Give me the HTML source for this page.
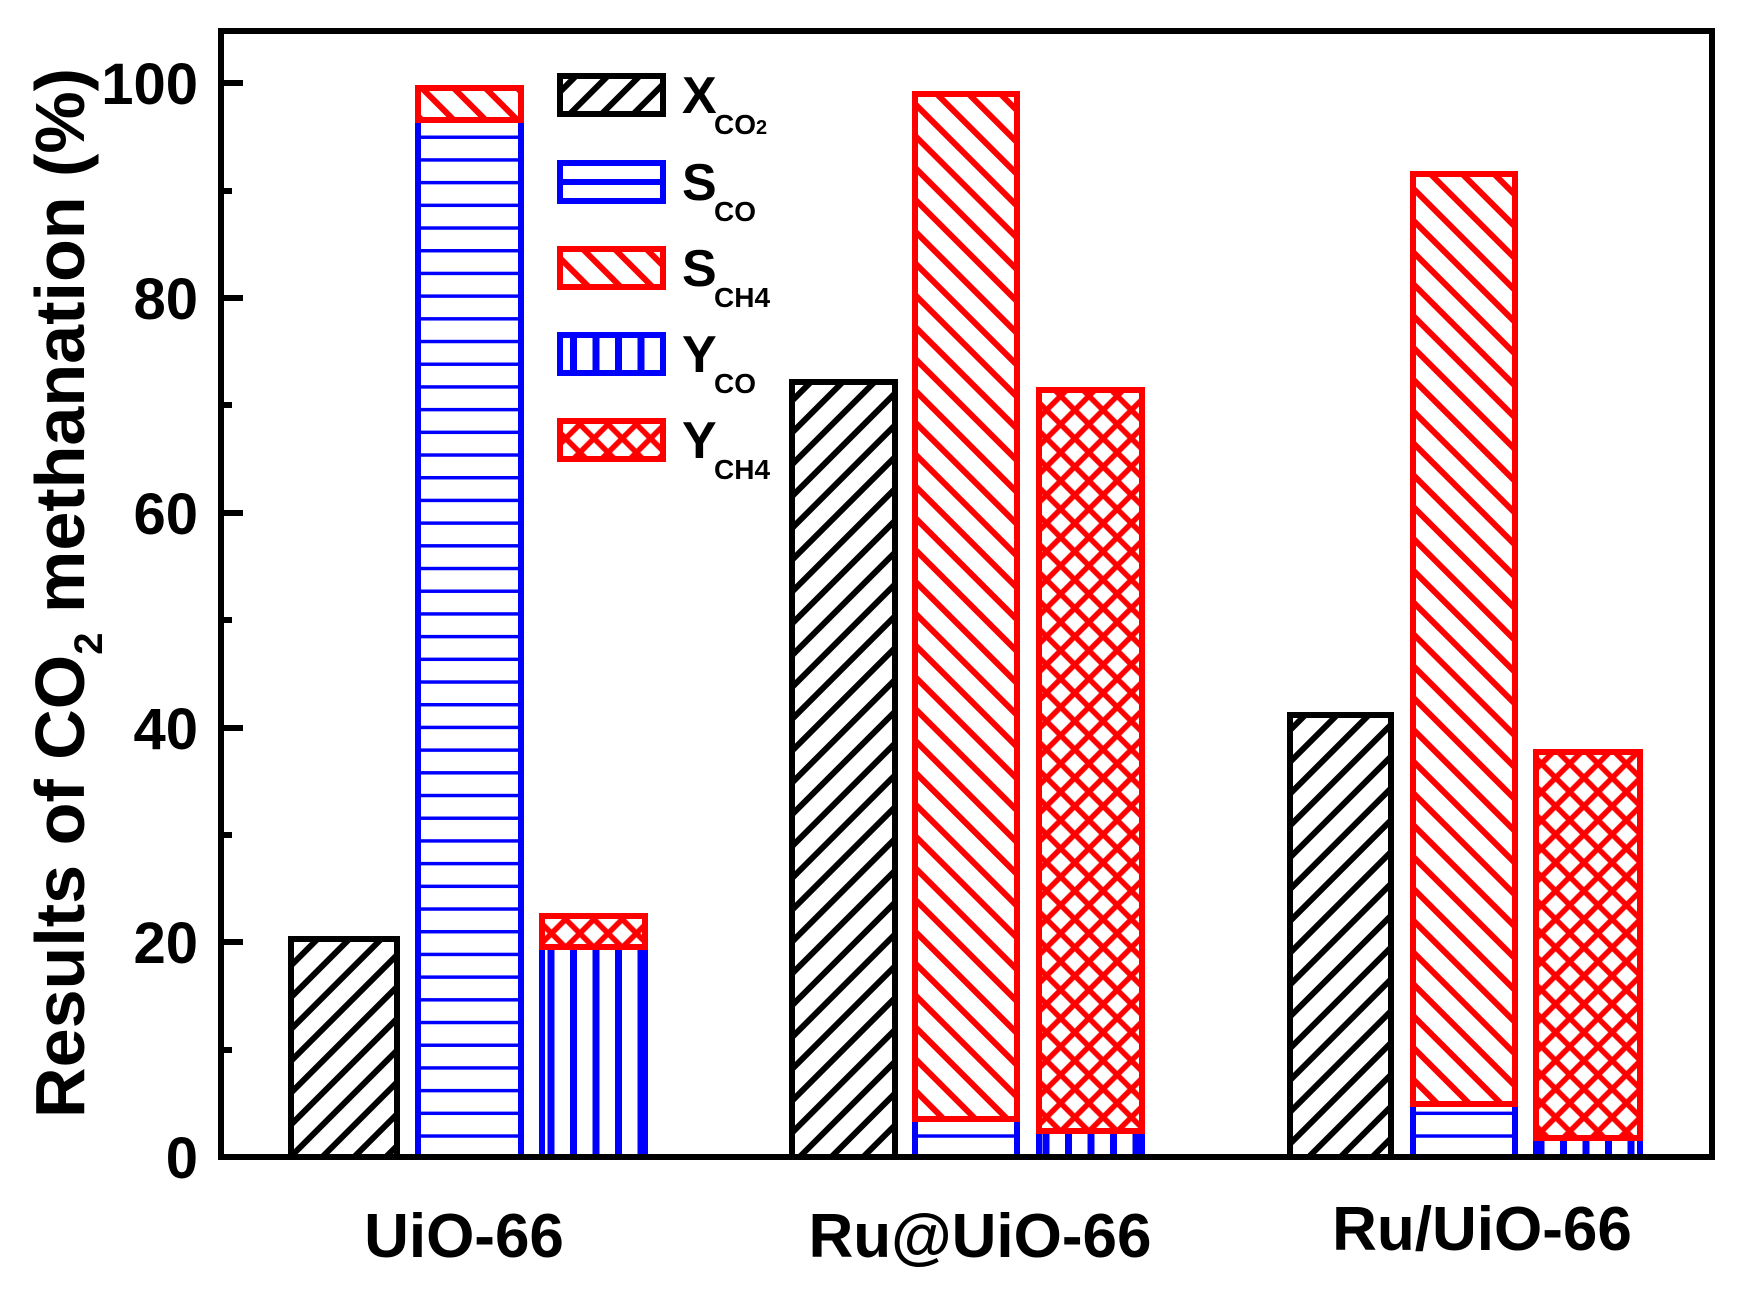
<!DOCTYPE html>
<html><head><meta charset="utf-8"><style>html,body{margin:0;padding:0;background:#fff}svg{display:block}</style></head>
<body>
<svg width="1755" height="1302" viewBox="0 0 1755 1302" xmlns="http://www.w3.org/2000/svg" font-family="Liberation Sans, Arial, sans-serif" font-weight="bold">
<defs>
<pattern id="fw" patternUnits="userSpaceOnUse" width="22.5" height="40" patternTransform="rotate(45)">
<line x1="11" y1="0" x2="11" y2="40" stroke="#000" stroke-width="6"/></pattern>
<pattern id="bw" patternUnits="userSpaceOnUse" width="22.5" height="40" patternTransform="rotate(-45)">
<line x1="11" y1="0" x2="11" y2="40" stroke="#f00" stroke-width="6"/></pattern>
<pattern id="hz" patternUnits="userSpaceOnUse" width="40" height="22.7" y="1157">
<line x1="0" y1="0" x2="40" y2="0" stroke="#00f" stroke-width="7"/></pattern>
<pattern id="vt" patternUnits="userSpaceOnUse" width="22.5" height="40">
<line x1="11" y1="0" x2="11" y2="40" stroke="#00f" stroke-width="7"/></pattern>
<pattern id="cx" patternUnits="userSpaceOnUse" width="20" height="20" patternTransform="rotate(45)">
<line x1="10" y1="0" x2="10" y2="20" stroke="#f00" stroke-width="5.5"/>
<line x1="0" y1="10" x2="20" y2="10" stroke="#f00" stroke-width="5.5"/></pattern>
</defs>

<g stroke-width="6">
<rect x="291" y="939" width="106" height="218" fill="url(#fw)" stroke="#000"/>
<rect x="418" y="120" width="103" height="1037" fill="url(#hz)" stroke="#00f"/>
<rect x="418" y="88" width="103" height="32" fill="url(#bw)" stroke="#f00"/>
<rect x="542" y="947" width="103" height="210" fill="url(#vt)" stroke="#00f"/>
<rect x="542" y="916" width="103" height="31" fill="url(#cx)" stroke="#f00"/>
<rect x="792" y="382" width="103" height="775" fill="url(#fw)" stroke="#000"/>
<rect x="915" y="1119" width="102" height="38" fill="url(#hz)" stroke="#00f"/>
<rect x="915" y="94" width="102" height="1025" fill="url(#bw)" stroke="#f00"/>
<rect x="1039" y="1131" width="103" height="26" fill="url(#vt)" stroke="#00f"/>
<rect x="1039" y="390" width="103" height="741" fill="url(#cx)" stroke="#f00"/>
<rect x="1290" y="715" width="101" height="442" fill="url(#fw)" stroke="#000"/>
<rect x="1413" y="1104" width="102" height="53" fill="url(#hz)" stroke="#00f"/>
<rect x="1413" y="174" width="102" height="930" fill="url(#bw)" stroke="#f00"/>
<rect x="1536" y="1138" width="104" height="19" fill="url(#vt)" stroke="#00f"/>
<rect x="1536" y="752" width="104" height="386" fill="url(#cx)" stroke="#f00"/>
</g>

<rect x="221" y="31" width="1491" height="1126" fill="none" stroke="#000" stroke-width="6"/>
<g stroke="#000" stroke-width="6">
<line x1="221" y1="83" x2="243" y2="83"/><line x1="221" y1="191" x2="232" y2="191"/>
<line x1="221" y1="298" x2="243" y2="298"/><line x1="221" y1="405" x2="232" y2="405"/>
<line x1="221" y1="513" x2="243" y2="513"/><line x1="221" y1="620" x2="232" y2="620"/>
<line x1="221" y1="728" x2="243" y2="728"/><line x1="221" y1="835" x2="232" y2="835"/>
<line x1="221" y1="942" x2="243" y2="942"/><line x1="221" y1="1050" x2="232" y2="1050"/>
</g>
<g font-size="58" text-anchor="end" fill="#000">
<text x="198" y="104">100</text><text x="198" y="319">80</text><text x="198" y="534">60</text>
<text x="198" y="749">40</text><text x="198" y="963">20</text><text x="198" y="1178">0</text>
</g>

<text transform="translate(84,1118) rotate(-90)" font-size="70" textLength="1050" lengthAdjust="spacingAndGlyphs" fill="#000">Results of CO<tspan font-size="40" dy="18">2</tspan><tspan dy="-18"> methanation (%)</tspan></text>

<g font-size="62" text-anchor="middle" fill="#000">
<text x="464" y="1257">UiO-66</text>
<text x="980" y="1257">Ru@UiO-66</text>
<text x="1482" y="1250">Ru/UiO-66</text>
</g>

<g stroke-width="6">
<rect x="560" y="76" width="103" height="38" fill="url(#fw)" stroke="#000"/>
<rect x="560" y="163" width="103" height="38" fill="#fff" stroke="#00f"/>
<line x1="560" y1="182" x2="663" y2="182" stroke="#00f" stroke-width="6"/>
<rect x="560" y="249" width="103" height="38" fill="url(#bw)" stroke="#f00"/>
<rect x="560" y="335" width="103" height="38" fill="url(#vt)" stroke="#00f"/>
<rect x="560" y="421" width="103" height="38" fill="url(#cx)" stroke="#f00"/>
</g>
<g font-size="52" fill="#000">
<text x="682" y="113">X</text><text x="714" y="134" font-size="28">CO<tspan font-size="20">2</tspan></text>
<text x="682" y="200">S</text><text x="714" y="221" font-size="28">CO</text>
<text x="682" y="286">S</text><text x="714" y="307" font-size="28">CH4</text>
<text x="682" y="372">Y</text><text x="714" y="393" font-size="28">CO</text>
<text x="682" y="458">Y</text><text x="714" y="479" font-size="28">CH4</text>
</g>
</svg>
</body></html>
